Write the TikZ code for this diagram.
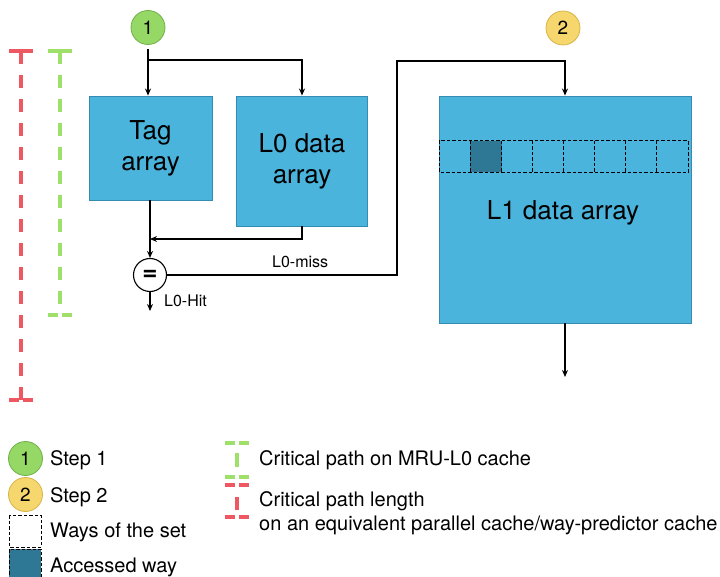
\documentclass[tikz,border=0pt]{standalone}
\usepackage{fontspec}
\setmainfont{TeX Gyre Heros}
\usetikzlibrary{arrows.meta}

\definecolor{boxblue}{RGB}{75,180,220}
\definecolor{boxedge}{RGB}{52,140,176}
\definecolor{waydark}{RGB}{46,120,150}
\definecolor{stepgreen}{RGB}{150,216,102}
\definecolor{stepgreenedge}{RGB}{112,176,72}
\definecolor{stepyellow}{RGB}{245,215,110}
\definecolor{stepyellowedge}{RGB}{214,180,72}
\definecolor{pathred}{RGB}{238,88,98}
\definecolor{pathgreen}{RGB}{158,224,106}

\begin{document}
\begin{tikzpicture}[x=1pt,y=-1pt,
  block/.style={draw=boxedge, fill=boxblue, line width=0.9pt, align=center,
    font=\fontsize{26}{31}\selectfont, inner sep=0pt},
  stepbadge/.style={circle, line width=0.8pt, minimum size=34pt, inner sep=0pt,
    font=\fontsize{19}{19}\selectfont},
  stepone/.style={stepbadge, draw=stepgreenedge, fill=stepgreen},
  steptwo/.style={stepbadge, draw=stepyellowedge, fill=stepyellow},
  compare/.style={circle, draw=black, fill=white, line width=1.1pt, minimum size=33pt,
    inner sep=0pt, font=\fontsize{26}{26}\selectfont\bfseries},
  wire/.style={line width=1.7pt, draw=black},
  arr/.style={wire, -{Stealth[length=7pt,width=6pt]}},
  waycell/.style={minimum width=31.1pt, minimum height=31pt, inner sep=0pt},
  waydash/.style={draw=black, dash pattern=on 3.5pt off 2pt, line width=0.7pt},
  small/.style={font=\fontsize{16}{16}\selectfont, inner sep=0pt},
  legend/.style={font=\fontsize{20}{20}\selectfont, inner sep=0pt, anchor=base west},
  pathline/.style={line width=3.5pt},
  pathdash/.style={pathline, dash pattern=on 13pt off 11pt},
  capdash/.style={pathline, dash pattern=on 10pt off 4pt},
]
\useasboundingbox (0,0) rectangle (720,577);

% step badges
\node[stepone] (s1) at (148,27.5) {1};
\node[steptwo] (s2) at (563,28) {2};

% arrays
\node[block, minimum width=123pt, minimum height=104pt] (tag) at (150.5,148) {Tag\\array};
\node[block, minimum width=131pt, minimum height=130pt] (l0) at (302,161) {L0 data\\array};
\node[block, minimum width=252pt, minimum height=227pt, text depth=0pt] (l1) at (565,209.5) {};
\node[font=\fontsize{26}{31}\selectfont, inner sep=0pt, anchor=base] (l1lbl) at (563,220) {L1 data array};

% ways of the set in L1
\foreach \i in {1,...,8}
  \node[waycell] (cell\i) at ({439.3+31.1*(\i-0.5)},156.5) {};
\fill[waydark] (cell2.north west) rectangle (cell2.south east);
\draw[waydash] (cell1.north west) rectangle (cell8.south east);
\foreach \i in {2,...,8}
  \draw[waydash] (cell\i.north west) -- (cell\i.south west);

% comparator
\node[compare] (eq) at (150,275) {=};

% wiring
\coordinate (split) at (148,60);
\coordinate (join) at (150,239);
\coordinate (missup) at (397,61);
\coordinate (hitend) at (150,311);
\coordinate (l1out) at (565,377);

\draw[wire, shorten <=4pt] (s1.south) -- (split);
\draw[arr] (split) -- (split |- tag.north);
\draw[arr] (split) -| (l0.north);
\draw[arr] (eq.north |- tag.south) -- (eq.north);
\draw[arr] (l0.south) |- (join);
\draw[arr] (eq.south) -- (hitend);
\draw[arr] (eq.east) -| (missup) -| (l1.north);
\draw[arr] (l1.south) -- (l1out);

\node[small, anchor=base west] (misslbl) at (272,268) {L0-miss};
\node[small, anchor=base west] (hitlbl) at (164,307) {L0-Hit};

% critical path brackets
\draw[pathline, draw=pathred] (9,51) -- (33,51);
\draw[pathdash, draw=pathred] (21,51) -- (21,400);
\draw[capdash, draw=pathred] (9,400) -- (33,400);
\draw[pathline, draw=pathgreen] (48,51) -- (72,51);
\draw[pathdash, draw=pathgreen] (60,51) -- (60,304);
\draw[capdash, draw=pathgreen] (48,315) -- (72,315);

% legend
\node[stepone] (lg1) at (25.5,458.5) {1};
\node[legend] (lg1t) at (50,465) {Step 1};
\node[steptwo] (lg2) at (25.5,494.5) {2};
\node[legend] (lg2t) at (50,502) {Step 2};
\draw[waydash, line width=0.8pt] (9,515) rectangle (41,547);
\node[legend] (lg3t) at (50,537) {Ways of the set};
\draw[waydash, fill=waydark, line width=0.8pt] (9,549) rectangle (41,580);
\node[legend] (lg4t) at (50,572) {Accessed way};

\draw[capdash, draw=pathgreen] (225,443) -- (249,443);
\draw[pathline, draw=pathgreen] (237,453) -- (237,467);
\draw[capdash, draw=pathgreen] (225,477) -- (249,477);
\node[legend] (lg5t) at (259,465) {Critical path on MRU-L0 cache};

\draw[capdash, draw=pathred] (225,485) -- (249,485);
\draw[pathline, draw=pathred] (237,497) -- (237,510);
\draw[capdash, draw=pathred] (225,517) -- (249,517);
\node[legend] (lg6t) at (259,506) {Critical path length};
\node[legend] (lg7t) at (259,530) {on an equivalent parallel cache/way-predictor cache};
\end{tikzpicture}
\end{document}
